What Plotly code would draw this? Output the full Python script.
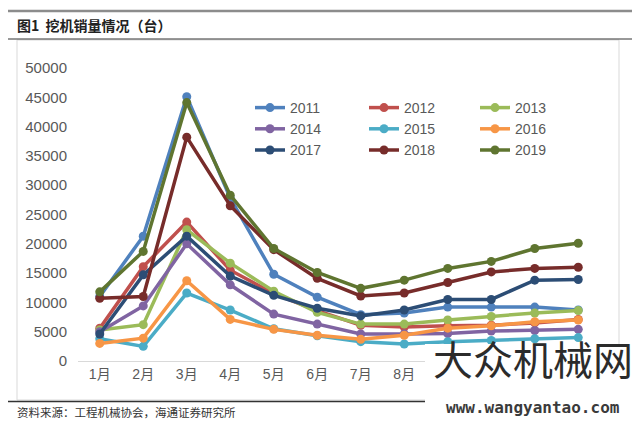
import plotly.graph_objects as go

months = ["1月", "2月", "3月", "4月", "5月", "6月", "7月", "8月", "9月", "10月", "11月", "12月"]
y_ticks = [0, 5000, 10000, 15000, 20000, 25000, 30000, 35000, 40000, 45000, 50000]

s2011 = [11000, 21300, 45100, 27800, 14800, 10900, 7900, 8200, 9200, 9200, 9200, 8700]
s2012 = [5600, 16100, 23700, 15500, 11500, 8600, 6100, 5800, 6000, 6100, 6500, 7100]
s2013 = [5300, 6200, 22400, 16700, 11900, 8300, 6300, 6300, 7000, 7600, 8200, 8600]
s2014 = [5000, 9400, 20000, 13000, 8000, 6300, 4600, 4600, 4700, 5100, 5200, 5400]
s2015 = [3800, 2500, 11600, 8700, 5500, 4300, 3300, 2900, 3300, 3500, 3800, 4000]
s2016 = [3000, 3900, 13700, 7100, 5400, 4400, 3700, 4400, 5600, 6000, 6700, 7000]
s2017 = [4600, 14700, 21300, 14500, 11200, 9000, 7700, 8700, 10500, 10500, 13800, 13900]
s2018 = [10700, 11000, 38200, 26500, 19000, 14100, 11100, 11600, 13400, 15200, 15800, 16000]
s2019 = [11800, 18700, 44100, 28300, 19200, 15100, 12400, 13800, 15800, 17000, 19200, 20100]

series = [
    ("2011", s2011, "#4F81BD", "legend"),
    ("2012", s2012, "#C0504D", "legend2"),
    ("2013", s2013, "#9BBB59", "legend3"),
    ("2014", s2014, "#8064A2", "legend"),
    ("2015", s2015, "#4BACC6", "legend2"),
    ("2016", s2016, "#F79646", "legend3"),
    ("2017", s2017, "#2C4D75", "legend"),
    ("2018", s2018, "#772C2A", "legend2"),
    ("2019", s2019, "#5F7530", "legend3"),
]

W, H = 640, 426
OFF = 8  # page body margin offset
L, R, T, B = 70, 48, 60, 73
PW, PH = W - L - R, H - T - B

def px(x):
    return (x - OFF - L) / PW

def py(y):
    return (H - B - (y - OFF)) / PH

fig = go.Figure()
for name, vals, color, lg in series:
    fig.add_trace(go.Scatter(
        x=months, y=vals, name=name, mode="lines+markers",
        line=dict(color=color, width=3.5),
        marker=dict(color=color, size=9),
        legend=lg,
    ))

legend_common = dict(
    font=dict(family="Liberation Sans, Arial", size=14, color="#595959"),
    bgcolor="rgba(0,0,0,0)", itemwidth=30, tracegroupgap=0,
    xanchor="left", yanchor="top", itemclick=False,
)
fig.update_layout(
    width=W, height=H,
    margin=dict(l=L, r=R, t=T, b=B),
    paper_bgcolor="white", plot_bgcolor="white",
    showlegend=True,
    legend=dict(x=px(250), y=py(92), **legend_common),
    legend2=dict(x=px(364), y=py(92), **legend_common),
    legend3=dict(x=px(475), y=py(92), **legend_common),
    xaxis=dict(
        type="category", range=[-0.5, 11.5],
        showline=True, linecolor="#d9d9d9", linewidth=1,
        showgrid=False, ticks="", zeroline=False,
        tickfont=dict(family="Liberation Sans, Noto Sans CJK SC", size=14, color="#595959"),
    ),
    yaxis=dict(
        range=[0, 50000], tickvals=y_ticks, ticktext=[str(v) for v in y_ticks],
        showgrid=False, zeroline=False, showline=False, ticks="",
        tickfont=dict(family="Liberation Sans, Arial", size=15, color="#595959"),
        ticklabelstandoff=10,
    ),
)

shapes = [
    dict(type="line", xref="paper", yref="paper", x0=px(7), x1=px(640), y0=py(11), y1=py(11),
         line=dict(color="#8c8c8c", width=2.5)),
    dict(type="line", xref="paper", yref="paper", x0=px(7), x1=px(640), y0=py(39), y1=py(39),
         line=dict(color="#333333", width=1)),
    dict(type="rect", xref="paper", yref="paper", x0=px(17), x1=px(619), y0=py(40), y1=py(400),
         line=dict(color="#d9d9d9", width=1), layer="below"),
    dict(type="line", xref="paper", yref="paper", x0=px(7), x1=px(640), y0=py(401.5), y1=py(401.5),
         line=dict(color="#333333", width=1.5)),
    # watermark white patch
    dict(type="rect", xref="paper", yref="paper", x0=px(425), x1=px(645), y0=py(344), y1=py(430),
         line=dict(width=0), fillcolor="white", layer="above"),
]
fig.update_layout(shapes=shapes)

annotations = [
    dict(text="<b>图1  挖机销量情况（台）</b>", x=px(15), y=py(25), xref="paper", yref="paper",
         xanchor="left", yanchor="middle", showarrow=False,
         font=dict(family="Noto Sans CJK SC", size=14, color="#222222")),
    dict(text="资料来源：工程机械协会，海通证券研究所", x=px(15), y=py(412), xref="paper", yref="paper",
         xanchor="left", yanchor="middle", showarrow=False,
         font=dict(family="Noto Sans CJK SC", size=11.5, color="#333333")),
    dict(text="大众机械网", x=px(533), y=py(358), xref="paper", yref="paper",
         xanchor="center", yanchor="middle", showarrow=False,
         font=dict(family="Noto Sans CJK SC", size=40, color="#2b2b2b")),
    dict(text="<b>www.wangyantao.com</b>", x=px(533), y=py(407), xref="paper", yref="paper",
         xanchor="center", yanchor="middle", showarrow=False,
         font=dict(family="DejaVu Sans Mono", size=16, color="#3a3a3a")),
]
fig.update_layout(annotations=annotations)

fig.write_html("out.html")
